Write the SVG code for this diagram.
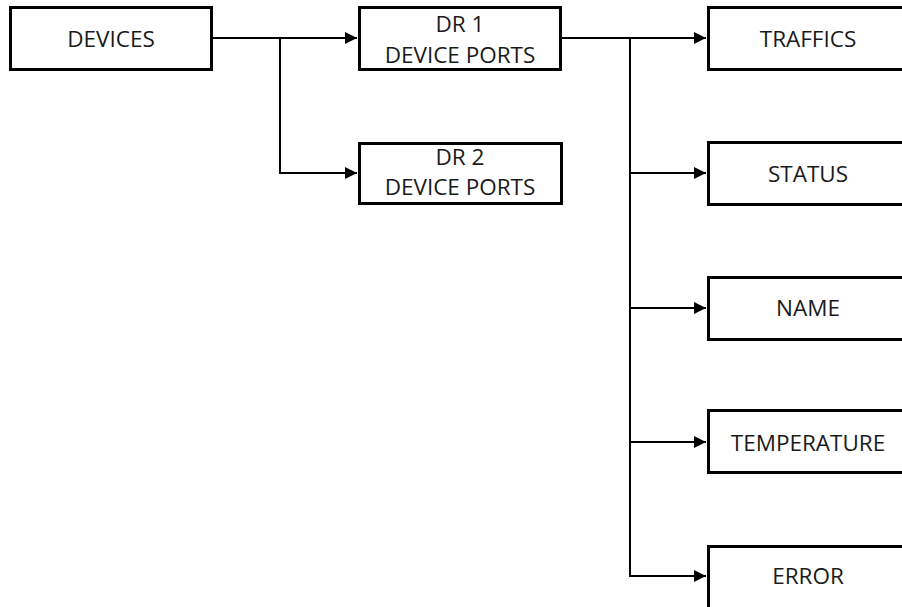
<svg xmlns="http://www.w3.org/2000/svg" width="902" height="607" viewBox="0 0 902 607">
<style>
.box{fill:#fff;stroke:#000;stroke-width:3}
.lbl{font-family:"Open Sans","Liberation Sans",sans-serif;font-size:22.5px;fill:#1a1a1a;text-anchor:middle}
.con{fill:none;stroke:#000;stroke-width:2}
</style>
<defs>
<marker id="arr" viewBox="0 0 12 12" refX="12" refY="6" markerWidth="12" markerHeight="12" markerUnits="userSpaceOnUse" orient="auto">
<path d="M0,0 L12,6 L0,12 Z" fill="#000"/>
</marker>
</defs>
<rect width="902" height="607" fill="#fff"/>
<g id="connectors">
<path class="con" d="M213,38 H357" marker-end="url(#arr)"/>
<path class="con" d="M280,38 V173 H357" marker-end="url(#arr)"/>
<path class="con" d="M562,38 H706" marker-end="url(#arr)"/>
<path class="con" d="M630,38 V576 H706" marker-end="url(#arr)"/>
<path class="con" d="M630,173 H706" marker-end="url(#arr)"/>
<path class="con" d="M630,308 H706" marker-end="url(#arr)"/>
<path class="con" d="M630,442 H706" marker-end="url(#arr)"/>
</g>
<g id="devices">
<rect class="box" x="10.5" y="7.5" width="201" height="62"/>
<text class="lbl" x="111" y="47">DEVICES</text>
</g>
<g id="dr1">
<rect class="box" x="359.5" y="7.5" width="201" height="62"/>
<text class="lbl" x="460" y="32">DR 1</text>
<text class="lbl" x="460" y="63">DEVICE PORTS</text>
</g>
<g id="dr2">
<rect class="box" x="359.5" y="143.5" width="202" height="60"/>
<text class="lbl" x="460" y="165">DR 2</text>
<text class="lbl" x="460" y="195">DEVICE PORTS</text>
</g>
<g id="traffics">
<rect class="box" x="708.5" y="7.5" width="202" height="62"/>
<text class="lbl" x="808" y="47">TRAFFICS</text>
</g>
<g id="status">
<rect class="box" x="708.5" y="142.5" width="202" height="62"/>
<text class="lbl" x="808" y="182">STATUS</text>
</g>
<g id="name">
<rect class="box" x="708.5" y="277.5" width="202" height="62"/>
<text class="lbl" x="808" y="316">NAME</text>
</g>
<g id="temperature">
<rect class="box" x="708.5" y="410.5" width="202" height="62"/>
<text class="lbl" x="808" y="451">TEMPERATURE</text>
</g>
<g id="error">
<rect class="box" x="708.5" y="546.5" width="202" height="62"/>
<text class="lbl" x="808" y="584">ERROR</text>
</g>
</svg>
